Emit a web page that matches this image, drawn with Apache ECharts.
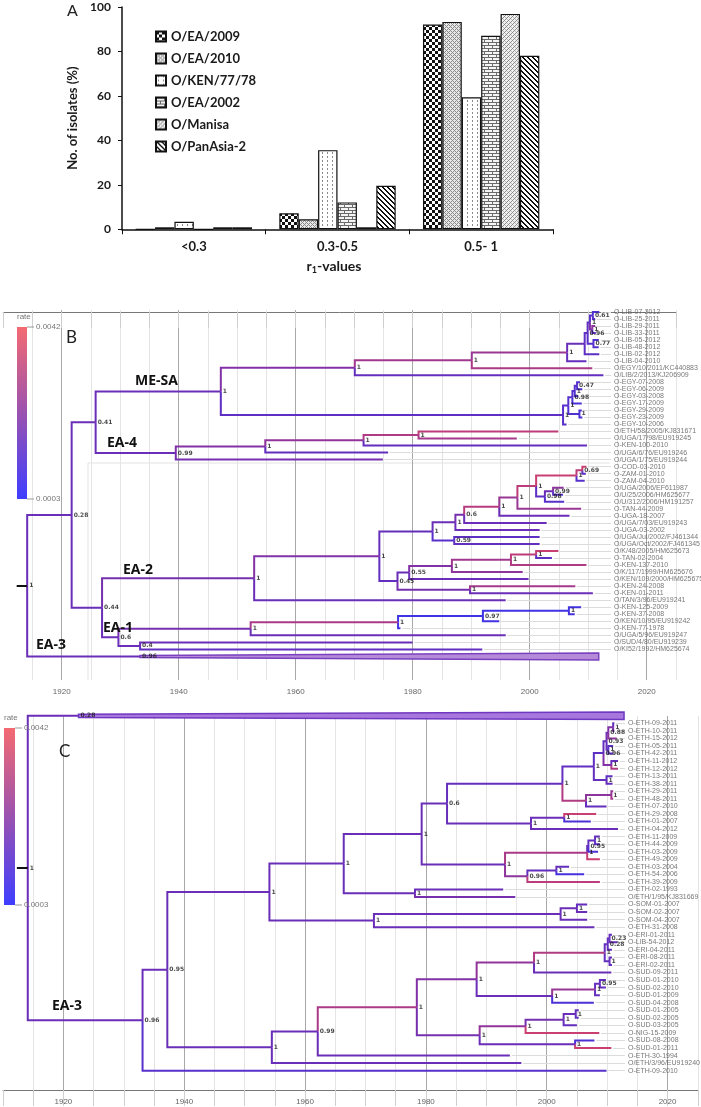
<!DOCTYPE html>
<html><head><meta charset="utf-8">
<script src="https://cdn.jsdelivr.net/npm/echarts@6/dist/echarts.min.js"></script>
<style>html,body{margin:0;padding:0;background:#fff}#c{width:701px;height:1107px}</style>
</head><body><div id="c"></div>
<script>
// ---------------- Panel A data ----------------
const rCategories = ['<0.3', '0.3-0.5', '0.5- 1'];
const strainNames = ['O/EA/2009', 'O/EA/2010', 'O/KEN/77/78', 'O/EA/2002', 'O/Manisa', 'O/PanAsia-2'];
const ea2009   = [0,   7.2, 92.1];
const ea2010   = [0.9, 4.5, 93.3];
const ken7778  = [3.4, 35.6, 59.4];
const ea2002   = [0,   12.1, 87.1];
const manisa   = [0.9, 0.9, 96.9];
const panAsia2 = [0.9, 19.6, 78.1];
const seriesValues = [ea2009, ea2010, ken7778, ea2002, manisa, panAsia2];

// ---------------- Trees (B, C) ----------------
// internal node: [date, support, rate(0..1 along scale), children]
// tip: [name, date, rate]; collapsed clade: {c:[mrcaDate, tipDate], s:support, t:rate}
const rateScaleLabels = ['0.0042', '0.0003'];
const cladeLabelsB = ['ME-SA', 'EA-4', 'EA-2', 'EA-1', 'EA-3'];
const cladeLabelsC = ['EA-3'];

const treeB = [1914.1, '1', 0.45, [
  [1921.7, '0.28', 0.45, [
    [1925.8, '0.41', 0.45, [
      [1947.2, '1', 0.45, [
        [1970.1, '1', 0.55, [
          [1990.1, '1', 0.68, [
            [2006.4, '1', 0.65, [
              [2009.4, '', 0.45, [
                [2009.9, '0.96', 0.35, [
                  [2010.3, '1', 0.35, [
                    [2010.8, '0.61', 0.3, [['O-LIB-07-2012', 2011.9, 0.25], ['O-LIB-25-2011', 2011.2, 0.3]]],
                    [2010.7, '1', 0.55, [['O-LIB-29-2011', 2011.2, 0.6], ['O-LIB-33-2011', 2011.3, 0.35]]]
                  ]],
                  [2010.9, '0.77', 0.3, [['O-LIB-05-2012', 2011.8, 0.25], ['O-LIB-48-2012', 2011.8, 0.3]]]
                ]],
                ['O-LIB-02-2012', 2011.9, 0.35]
              ]],
              ['O-LIB-04-2010', 2009.7, 0.4]
            ]],
            ['O/EGY/10/2011/KC440883', 2010.7, 0.72]
          ]],
          ['O/LIB/2/2013/KJ206909', 2012.6, 0.4]
        ]],
        [2005.7, '1', 0.35, [
          [2006.6, '1', 0.3, [
            [2007.3, '0.98', 0.3, [
              [2007.7, '1', 0.3, [
                [2008.1, '0.47', 0.3, [['O-EGY-07-2008', 2008.6, 0.3], ['O-EGY-06-2009', 2009.0, 0.25]]],
                ['O-EGY-03-2008', 2008.3, 0.2]
              ]],
              ['O-EGY-17-2009', 2008.9, 0.2]
            ]],
            [2008.5, '1', 0.25, [['O-EGY-29-2009', 2008.9, 0.2], ['O-EGY-23-2009', 2009.0, 0.2]]]
          ]],
          ['O-EGY-10-2006', 2006.3, 0.3]
        ]]
      ]],
      [1939.5, '0.99', 0.45, [
        [1954.8, '1', 0.55, [
          [1971.6, '1', 0.62, [
            [1981.0, '1', 0.75, [['O/ETH/58/2005/KJ831671', 2004.9, 0.8], ['O/UGA/17/98/EU919245', 1997.8, 0.7]]],
            ['O-KEN-100-2010', 2009.8, 0.4]
          ]],
          ['O/UGA/6/76/EU919246', 1975.8, 0.4]
        ]],
        ['O/UGA/1/75/EU919244', 1974.9, 0.5]
      ]]
    ]],
    [1926.9, '0.44', 0.45, [
      [1952.9, '1', 0.5, [
        [1974.3, '1', 0.55, [
          [1983.4, '1', 0.42, [
            [1987.3, '1', 0.45, [
              [1988.8, '0.6', 0.5, [
                [1994.8, '1', 0.78, [
                  [1997.9, '1', 0.65, [
                    [2001.1, '1', 0.8, [
                      [2008.0, '1', 0.85, [
                        [2009.0, '0.69', 0.8, [['O-COD-03-2010', 2009.7, 0.85], ['O-ZAM-01-2010', 2009.6, 0.35]]],
                        ['O-ZAM-04-2010', 2009.4, 0.3]
                      ]],
                      [2002.6, '0.98', 0.35, [
                        [2004.0, '0.99', 0.45, [['O/UGA/2006/EF611987', 2005.8, 0.6], ['O/U/25/2006/HM625677', 2005.7, 0.3]]],
                        ['O/U/312/2006/HM191257', 2005.9, 0.3]
                      ]]
                    ]],
                    ['O-TAN-44-2009', 2008.8, 0.65]
                  ]],
                  ['O-UGA-18-2007', 2006.8, 0.45]
                ]],
                ['O/UGA/7/03/EU919243', 2002.9, 0.45]
              ]],
              ['O-UGA-03-2002', 2001.7, 0.45]
            ]],
            [1987.1, '0.59', 0.3, [['O/UGA/Jul/2002/FJ461344', 2001.7, 0.35], ['O/UGA/Oct/2002/FJ461345', 2001.7, 0.4]]]
          ]],
          [1977.4, '0.45', 0.38, [
            [1979.4, '0.55', 0.45, [
              [1986.7, '1', 0.55, [
                [1996.8, '1', 0.68, [
                  [2001.1, '1', 0.8, [['O/K/48/2005/HM625673', 2004.9, 0.85], ['O-TAN-02-2004', 2003.8, 0.35]]],
                  ['O-KEN-137-2010', 2009.7, 0.75]
                ]],
                ['O/K/117/1999/HM625676', 1998.8, 0.6]
              ]],
              ['O/KEN/109/2000/HM625675', 1999.8, 0.45]
            ]],
            [1989.8, '1', 0.5, [['O-KEN-24-2008', 2007.8, 0.7], ['O-KEN-01-2011', 2010.8, 0.45]]]
          ]]
        ]],
        ['O/TAN/3/96/EU919241', 1995.9, 0.45]
      ]],
      [1929.7, '0.6', 0.45, [
        [1952.3, '1', 0.5, [
          [1977.5, '1', 0.72, [
            [1992.0, '0.97', 0.08, [
              [2006.7, '1', 0.1, [['O-KEN-125-2009', 2008.8, 0.12], ['O-KEN-37-2008', 2007.7, 0.15]]],
              ['O/KEN/10/95/EU919242', 1994.8, 0.12]
            ]],
            ['O-KEN-77-1978', 1977.9, 0.1]
          ]],
          ['O/UGA/5/96/EU919247', 1995.9, 0.45]
        ]],
        [1933.4, '0.4', 0.45, [['O/SUD/4/80/EU919239', 1980.0, 0.45], ['O/KI52/1992/HM625674', 1991.9, 0.38]]]
      ]]
    ]]
  ]],
  {c: [1933.4, 2011.8], s: '0.96', t: 0.45}
]];

const treeC = [1914.1, '1', 0.45, [
  {c: [1922.5, 2012.8], s: '0.28', t: 0.45},
  [1933.1, '0.96', 0.45, [
    [1937.2, '0.95', 0.45, [
      [1954.1, '1', 0.45, [
        [1966.4, '1', 0.45, [
          [1979.3, '1', 0.45, [
            [1983.5, '0.6', 0.45, [
              [2002.6, '1', 0.42, [
                [2007.8, '1', 0.38, [
                  [2009.4, '0.96', 0.35, [
                    [2009.9, '0.93', 0.4, [
                      [2010.2, '0.88', 0.5, [
                        [2011.0, '1', 0.55, [['O-ETH-09-2011', 2011.2, 0.4], ['O-ETH-10-2011', 2011.2, 0.5]]],
                        ['O-ETH-15-2012', 2011.6, 0.6]
                      ]],
                      [2010.2, '1', 0.4, [['O-ETH-05-2011', 2011.0, 0.35], ['O-ETH-42-2011', 2011.0, 0.35]]]
                    ]],
                    [2010.7, '1', 0.55, [['O-ETH-11-2012', 2011.8, 0.4], ['O-ETH-12-2012', 2011.8, 0.75]]]
                  ]],
                  [2009.9, '1', 0.4, [['O-ETH-13-2011', 2010.9, 0.35], ['O-ETH-38-2011', 2010.9, 0.4]]]
                ]],
                [2006.5, '1', 0.75, [
                  [2010.7, '1', 0.6, [['O-ETH-29-2011', 2011.0, 0.65], ['O-ETH-48-2011', 2011.0, 0.7]]],
                  ['O-ETH-07-2010', 2009.9, 0.4]
                ]]
              ]],
              [1997.4, '1', 0.45, [
                [2002.9, '1', 0.45, [['O-ETH-29-2008', 2008.2, 0.85], ['O-ETH-01-2007', 2007.3, 0.2]]],
                ['O-ETH-04-2012', 2011.8, 0.45]
              ]]
            ]],
            [1993.1, '1', 0.45, [
              [2006.7, '1', 0.72, [
                [2006.9, '0.95', 0.4, [
                  [2008.0, '1', 0.4, [['O-ETH-11-2009', 2008.8, 0.4], ['O-ETH-44-2009', 2008.8, 0.35]]],
                  ['O-ETH-03-2009', 2008.5, 0.2]
                ]],
                ['O-ETH-49-2009', 2008.8, 0.85]
              ]],
              [1996.8, '0.96', 0.6, [
                [2001.6, '1', 0.4, [['O-ETH-03-2004', 2003.7, 0.4], ['O-ETH-54-2006', 2006.2, 0.15]]],
                ['O-ETH-39-2009', 2008.8, 0.8]
              ]]
            ]]
          ]],
          [1978.2, '1', 0.45, [['O-ETH-02-1993', 1992.8, 0.45], ['O/ETH/1/95/KJ831669', 1994.8, 0.5]]]
        ]],
        [1971.4, '1', 0.45, [
          [2002.3, '1', 0.45, [
            [2005.0, '1', 0.45, [['O-SOM-01-2007', 2006.7, 0.4], ['O-SOM-02-2007', 2006.7, 0.45]]],
            ['O-SOM-04-2007', 2006.7, 0.45]
          ]],
          ['O-ETH-31-2008', 2007.9, 0.45]
        ]]
      ]],
      [1954.5, '1', 0.45, [
        [1962.1, '0.99', 0.45, [
          [1978.5, '1', 0.72, [
            [1988.4, '1', 0.55, [
              [1997.9, '1', 0.62, [
                [2009.6, '1', 0.75, [
                  [2010.1, '0.28', 0.4, [
                    [2010.4, '0.23', 0.4, [['O-ERI-01-2011', 2010.8, 0.4], ['O-LIB-54-2012', 2011.7, 0.45]]],
                    ['O-ERI-04-2011', 2010.8, 0.4]
                  ]],
                  [2010.4, '1', 0.4, [['O-ERI-08-2011', 2010.8, 0.4], ['O-ERI-02-2011', 2010.8, 0.4]]]
                ]],
                ['O-SUD-09-2011', 2010.7, 0.45]
              ]],
              [2000.9, '1', 0.45, [
                [2008.0, '1', 0.65, [
                  [2008.8, '0.95', 0.4, [['O-SUD-01-2010', 2009.8, 0.4], ['O-SUD-02-2010', 2009.8, 0.4]]],
                  ['O-SUD-01-2009', 2008.8, 0.4]
                ]],
                ['O-SUD-04-2008', 2007.8, 0.2]
              ]]
            ]],
            [1988.9, '1', 0.5, [
              [1996.5, '1', 0.62, [
                [2002.8, '1', 0.5, [
                  [2004.8, '1', 0.45, [['O-SUD-01-2005', 2005.3, 0.4], ['O-SUD-02-2005', 2005.3, 0.4]]],
                  ['O-SUD-03-2005', 2005.0, 0.4]
                ]],
                ['O-NIG-15-2009', 2008.7, 0.85]
              ]],
              [2004.7, '1', 0.45, [['O-SUD-08-2008', 2007.9, 0.2], ['O-SUD-01-2011', 2010.7, 0.85]]]
            ]]
          ]],
          ['O-ETH-30-1994', 1993.9, 0.45]
        ]],
        ['O/ETH/3/96/EU919240', 1995.8, 0.45]
      ]]
    ]],
    ['O-ETH-09-2010', 2009.9, 0.3]
  ]]
]];

// ---------------- styling helpers ----------------
const rateStops = [[0, [52, 52, 240]], [0.45, [106, 46, 184]], [1, [236, 70, 86]]];
function rateColor(t) {
  for (let i = 1; i < rateStops.length; i++) {
    if (t <= rateStops[i][0]) {
      const a = rateStops[i - 1], b = rateStops[i];
      const f = (t - a[0]) / (b[0] - a[0]);
      const c = a[1].map((v, k) => Math.round(v + (b[1][k] - v) * f));
      return 'rgb(' + c.join(',') + ')';
    }
  }
  return 'rgb(' + rateStops[rateStops.length - 1][1].join(',') + ')';
}

function pattern(w, h, fn) {
  const cv = document.createElement('canvas');
  cv.width = w; cv.height = h;
  const g = cv.getContext('2d');
  for (let i = 0; i < w; i++) for (let j = 0; j < h; j++) {
    g.fillStyle = fn(i, j); g.fillRect(i, j, 1, 1);
  }
  return { image: cv, repeat: 'repeat' };
}
const fills = [
  pattern(6, 6, (i, j) => ((Math.floor(i / 3) + Math.floor(j / 3)) % 2 ? '#ffffff' : '#111111')),
  pattern(4, 4, (i, j) => (((i + j) % 4 === 0 || (i - j + 4) % 4 === 0) ? '#8a8a8a' : '#e8e8e8')),
  pattern(5, 4, (i, j) => ((i % 5 === 2 && j % 4 < 2) ? '#8a8a8a' : '#ffffff')),
  pattern(8, 6, (i, j) => ((j % 3 === 0) || (j < 3 && i === 0) || (j >= 3 && i === 4) ? '#6a6a6a' : '#f4f4f4')),
  pattern(4, 4, (i, j) => ((i + j) % 4 === 0 ? '#888888' : ((i - j + 8) % 8 === 0 ? '#bbbbbb' : '#f2f2f2'))),
  pattern(5, 5, (i, j) => (((i - j + 10) % 5) < 2 ? '#111111' : '#ffffff'))
];

function layoutTree(tree) {
  const branches = [], tips = [], nodes = [], collapsed = [];
  let slot = 0;
  function walk(n) {
    if (!Array.isArray(n)) {
      const y = slot++;
      collapsed.push([n.c[0], n.c[1], y]);
      nodes.push({ value: [n.c[0], y], name: n.s });
      return { y: y, date: n.c[0], t: n.t };
    }
    if (typeof n[0] === 'string') {
      const y = slot++;
      tips.push({ name: n[0], date: n[1], y: y });
      return { y: y, date: n[1], t: n[2] };
    }
    const date = n[0], s = n[1], t = n[2], kids = n[3];
    const res = kids.map(walk);
    const y = (res[0].y + res[res.length - 1].y) / 2;
    res.forEach(r => branches.push({ coords: [[date, y], [date, r.y], [r.date, r.y]], lineStyle: { color: rateColor(r.t), opacity: 1, width: 2 } }));
    if (s) nodes.push({ value: [date, y], name: s });
    return { y: y, date: date, t: t };
  }
  const root = walk(tree);
  return { branches, tips, nodes, collapsed, root };
}

const narrowFont = "'Liberation Sans Narrow', 'Arial Narrow', 'Liberation Sans', sans-serif";

function treeSeries(tree, gi, labelYear, wedgeFill, wedgeStroke, wedgeStart) {
  const L = layoutTree(tree);
  const base = { coordinateSystem: 'cartesian2d', xAxisIndex: gi, yAxisIndex: gi, silent: true };
  return [
    Object.assign({ type: 'lines', clip: false, z: 2, polyline: false,
      lineStyle: { color: '#dcdcdc', width: 1, opacity: 1 },
      data: L.tips.map(t => ({ coords: [[t.date + 0.3, t.y], [labelYear - 0.25, t.y]] })) }, base),
    Object.assign({ type: 'custom', clip: false, z: 3,
      encode: { x: [0, 1], y: 2 },
      data: L.collapsed,
      renderItem: function (params, api) {
        const s = api.value(0), e = api.value(1), y = api.value(2);
        const p0 = api.coord([s, y]), p1 = api.coord([e, y]);
        const hy = api.size([0, 1])[1];
        const h0 = hy * wedgeStart, h1 = hy * 0.5;
        return { type: 'polygon', shape: { points: [[p0[0], p0[1] - h0], [p1[0], p1[1] - h1], [p1[0], p1[1] + h1], [p0[0], p0[1] + h0]] },
          style: { fill: wedgeFill, stroke: wedgeStroke, lineWidth: 1.5 } };
      } }, base),
    Object.assign({ type: 'lines', clip: false, z: 4, polyline: true,
      lineStyle: { width: 2, join: 'miter', opacity: 1 }, data: L.branches }, base),
    Object.assign({ type: 'lines', clip: false, z: 4, polyline: false,
      lineStyle: { width: 2, color: '#111', opacity: 1 },
      data: [{ coords: [[tree[0] - 1.8, L.root.y], [tree[0], L.root.y]] }] }, base),
    Object.assign({ type: 'scatter', z: 5, clip: false, symbolSize: 1, itemStyle: { color: 'rgba(0,0,0,0)' },
      label: { show: true, position: 'right', distance: 1, formatter: '{b}', fontSize: 7, fontFamily: narrowFont, color: '#555' },
      data: L.tips.map(t => ({ value: [labelYear, t.y], name: t.name })) }, base),
    Object.assign({ type: 'scatter', z: 6, clip: false, symbolSize: 1, itemStyle: { color: 'rgba(0,0,0,0)' },
      label: { show: true, position: 'right', distance: 1.5, formatter: '{b}', fontSize: 6, fontWeight: 'bold', fontFamily: "'DejaVu Sans', sans-serif", color: '#161616' },
      data: L.nodes }, base)
  ];
}

function timeAxis(gi) {
  return {
    gridIndex: gi, type: 'value', min: 1910, max: 2025, interval: 5,
    axisLine: { show: true, lineStyle: { color: '#777', width: 1 } },
    axisTick: { show: true, length: 16, lineStyle: { color: '#cfcfcf' } },
    axisLabel: { formatter: v => (v % 20 === 0 ? String(v) : ''), fontSize: 8, fontFamily: narrowFont, color: '#666', margin: 8 },
    splitLine: { show: true, showMinLine: false, lineStyle: { color: ['#e4e4e4', '#a8a8a8', '#e4e4e4', '#e4e4e4'], width: 1 } }
  };
}

const barSeries = strainNames.map((n, i) => ({
  type: 'bar', name: n, xAxisIndex: 0, yAxisIndex: 0, data: seriesValues[i],
  barGap: 0, barCategoryGap: '19%',
  itemStyle: { color: fills[i], borderColor: '#111', borderWidth: 1.2 }
}));

const colorBar = (x, y, w, h, tx) => [
  { type: 'rect', shape: { x: x, y: y, width: w, height: h }, style: { fill: new echarts.graphic.LinearGradient(0, 0, 0, 1, [
      { offset: 0, color: '#f36a72' }, { offset: 0.5, color: '#9a52b0' }, { offset: 1, color: '#3e3eff' }]) }, z: 20 },
  { type: 'text', x: x, y: y - 10, style: { text: 'rate', font: '8px ' + narrowFont, fill: '#777', textVerticalAlign: 'middle', verticalAlign: 'middle' }, z: 20 },
  { type: 'line', shape: { x1: x + w, y1: y, x2: tx - 2, y2: y }, style: { stroke: '#999', lineWidth: 1 }, z: 20 },
  { type: 'line', shape: { x1: x + w, y1: y + h, x2: tx - 2, y2: y + h }, style: { stroke: '#999', lineWidth: 1 }, z: 20 },
  { type: 'text', x: tx, y: y, style: { text: rateScaleLabels[0], font: '8px ' + narrowFont, fill: '#777', textVerticalAlign: 'middle', verticalAlign: 'middle' }, z: 20 },
  { type: 'text', x: tx, y: y + h, style: { text: rateScaleLabels[1], font: '8px ' + narrowFont, fill: '#777', textVerticalAlign: 'middle', verticalAlign: 'middle' }, z: 20 }
];
const cladeText = (t, x, y) => ({ type: 'text', x: x, y: y, z: 30,
  style: { text: t, font: 'bold 14px "Open Sans"', fill: '#111', textVerticalAlign: 'middle', verticalAlign: 'middle' } });

const option = {
  animation: false,
  backgroundColor: '#ffffff',
  grid: [
    { left: 122, top: 7, width: 431, height: 222.3 },
    { left: 3.2, top: 310, width: 672.75, height: 370 },
    { left: -9.5, top: 716, width: 707.25, height: 374 }
  ],
  legend: {
    data: strainNames, orient: 'vertical', left: 150, top: 25, itemWidth: 10, itemHeight: 10, itemGap: 9,
    selectedMode: false, icon: 'rect',
    textStyle: { fontFamily: 'Lato', fontWeight: 'bold', fontSize: 13, color: '#1a1a1a', lineHeight: 13 }
  },
  xAxis: [
    { gridIndex: 0, type: 'category', data: rCategories,
      axisLine: { lineStyle: { color: '#111', width: 1.5 } },
      axisTick: { show: true, length: 5, lineStyle: { color: '#111' } },
      axisLabel: { fontFamily: 'Lato', fontWeight: 'bold', fontSize: 13, color: '#1a1a1a', margin: 11 } },
    timeAxis(1), timeAxis(2)
  ],
  yAxis: [
    { gridIndex: 0, type: 'value', min: 0, max: 100, interval: 20,
      axisLine: { show: true, lineStyle: { color: '#111', width: 1.5 } },
      axisTick: { show: true, length: 4, lineStyle: { color: '#111' } },
      splitLine: { show: false },
      axisLabel: { fontFamily: 'Lato', fontWeight: 'bold', fontSize: 12, color: '#1a1a1a', margin: 11 },
      name: 'No. of isolates (%)', nameLocation: 'middle', nameGap: 37,
      nameTextStyle: { fontFamily: 'Lato', fontWeight: 'bold', fontSize: 13, color: '#1a1a1a' } },
    { gridIndex: 1, type: 'value', inverse: true, min: -0.284, max: 52.35, show: false },
    { gridIndex: 2, type: 'value', inverse: true, min: 0.0265, max: 49.56, show: false }
  ],
  graphic: [
    { type: 'text', x: 67, y: 11, z: 30, style: { text: 'A', font: '16px Lato', fill: '#222', textVerticalAlign: 'middle', verticalAlign: 'middle' } },
    { type: 'text', x: 334, y: 266, z: 30, style: { text: 'r{s|1}-values', font: 'bold 14px Lato', fill: '#1a1a1a', textAlign: 'center', align: 'center', textVerticalAlign: 'middle', verticalAlign: 'middle',
      rich: { s: { fontSize: 9, fontWeight: 'bold', fontFamily: 'Lato', padding: [9, 0, 0, 0] } } } },
    { type: 'line', shape: { x1: 88, y1: 463, x2: 610, y2: 463 }, style: { stroke: '#e2e2e2', lineWidth: 1 }, z: 0 },
    { type: 'line', shape: { x1: 88, y1: 463, x2: 88, y2: 680 }, style: { stroke: '#e2e2e2', lineWidth: 1 }, z: 0 },
    ...colorBar(17, 327, 10, 172, 36),
    ...colorBar(4, 728, 11, 177, 24),
    { type: 'text', x: 66, y: 338, z: 30, style: { text: 'B', font: '17px Lato', fill: '#222', textVerticalAlign: 'middle', verticalAlign: 'middle' } },
    { type: 'text', x: 59, y: 752, z: 30, style: { text: 'C', font: '17px Lato', fill: '#222', textVerticalAlign: 'middle', verticalAlign: 'middle' } },
    cladeText(cladeLabelsB[0], 135, 381),
    cladeText(cladeLabelsB[1], 107, 443),
    cladeText(cladeLabelsB[2], 123, 570),
    cladeText(cladeLabelsB[3], 103, 628),
    cladeText(cladeLabelsB[4], 36, 645),
    cladeText(cladeLabelsC[0], 52, 1006)
  ],
  series: [
    ...barSeries,
    ...treeSeries(treeB, 1, 2014.15, '#b58bd9', '#7a40bf', 0.14),
    ...treeSeries(treeC, 2, 2013.2, '#a877dd', '#7038c0', 0.22)
  ]
};

const chart = echarts.init(document.getElementById('c'), null, { renderer: 'canvas', width: 701, height: 1107 });
chart.setOption(option);
</script>
</body></html>
